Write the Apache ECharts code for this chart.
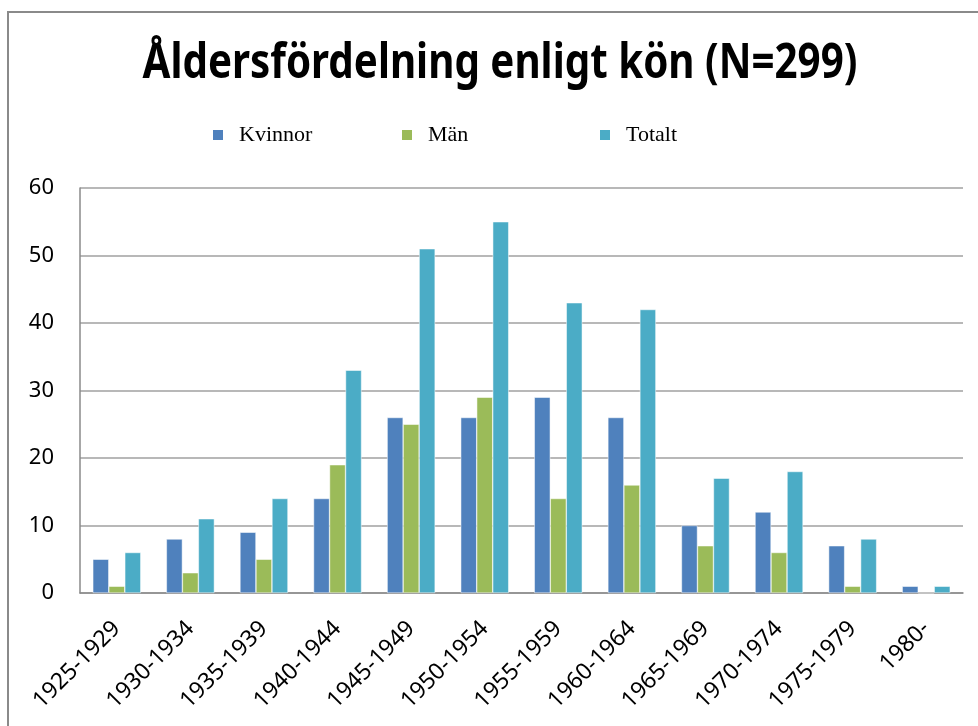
<!DOCTYPE html>
<html>
<head>
<meta charset="utf-8">
<script src="https://cdn.jsdelivr.net/npm/echarts@6/dist/echarts.min.js"></script>
<style>
  html, body { margin: 0; padding: 0; background: #fff; }
  #chart { width: 978px; height: 726px; }
</style>
</head>
<body>
<div id="chart"></div>
<script>
// åldersgrupper (födelseår)
var categories = ['1925-1929', '1930-1934', '1935-1939', '1940-1944', '1945-1949', '1950-1954',
  '1955-1959', '1960-1964', '1965-1969', '1970-1974', '1975-1979', '1980-']
var kvinnor = [5, 8, 9, 14, 26, 26, 29, 26, 10, 12, 7, 1]
var man = [1, 3, 5, 19, 25, 29, 14, 16, 7, 6, 1, 0]
var totalt = [6, 11, 14, 33, 51, 55, 43, 42, 17, 18, 8, 1]
var yTicks = [0, 10, 20, 30, 40, 50, 60]
var titleText = 'Åldersfördelning enligt kön (N=299)'

var myChart = echarts.init(document.getElementById('chart'))

var legendText = { fontFamily: 'Liberation Serif', fontSize: 22, color: '#000' }
function legendAt (name, left) {
  return {
    data: [name],
    left: left,
    top: 119,
    icon: 'rect',
    itemWidth: 12,
    itemHeight: 12,
    itemGap: 0,
    textStyle: Object.assign({ padding: [0, 0, 0, 10] }, legendText)
  }
}

var options = {
  animation: false,
  graphic: [
    {
      type: 'rect',
      shape: { x: 8, y: 12, width: 1000, height: 800 },
      style: { fill: 'none', stroke: '#8a8a8a', lineWidth: 2 },
      silent: true
    },
    {
      // titel, något hopträngd för att likna Calibri
      type: 'text',
      x: 500,
      y: 64,
      scaleX: 0.84,
      style: {
        text: titleText,
        font: 'bold 48px "Noto Sans"',
        fill: '#000',
        align: 'center',
        verticalAlign: 'middle'
      }
    }
  ],
  legend: [
    legendAt('Kvinnor', 206),
    legendAt('Män', 395),
    legendAt('Totalt', 593)
  ],
  grid: { left: 80, right: 15, top: 188, bottom: 133 },
  xAxis: {
    type: 'category',
    data: categories,
    axisLine: { lineStyle: { color: '#8a8a8a', width: 1.5 } },
    axisTick: { show: false },
    axisLabel: {
      interval: 0,
      rotate: 45,
      margin: 32,
      fontFamily: 'Noto Sans',
      fontSize: 23,
      color: '#000'
    }
  },
  yAxis: {
    type: 'value',
    min: yTicks[0],
    max: yTicks[yTicks.length - 1],
    interval: 10,
    axisLine: { show: true, lineStyle: { color: '#8a8a8a', width: 1.5 } },
    axisTick: { show: false },
    splitLine: { lineStyle: { color: '#a0a0a0', width: 1.5 } },
    axisLabel: { margin: 26, fontFamily: 'Noto Sans', fontSize: 22, color: '#000' }
  },
  series: [
    { name: 'Kvinnor', type: 'bar', data: kvinnor, barWidth: 16, barGap: '0%',
      itemStyle: { color: '#4F81BD', borderColor: '#fff', borderWidth: 0.5 } },
    { name: 'Män', type: 'bar', data: man, barWidth: 16, barGap: '0%',
      itemStyle: { color: '#9BBB59', borderColor: '#fff', borderWidth: 0.5 } },
    { name: 'Totalt', type: 'bar', data: totalt, barWidth: 16, barGap: '0%',
      itemStyle: { color: '#4BACC6', borderColor: '#fff', borderWidth: 0.5 } }
  ]
}
myChart.setOption(options)
</script>
</body>
</html>
